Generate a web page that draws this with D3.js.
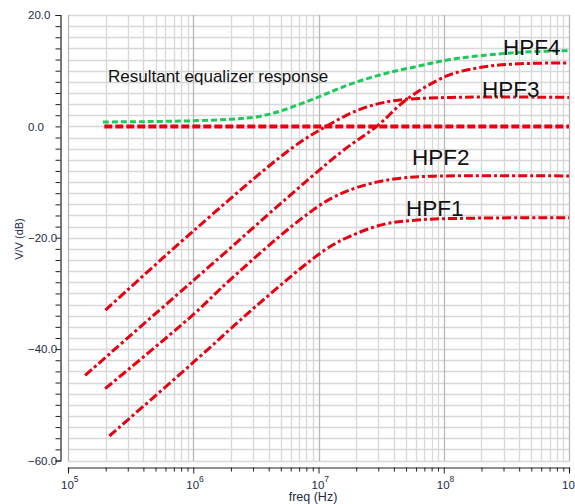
<!DOCTYPE html>
<html>
<head>
<meta charset="utf-8">
<script src="https://cdn.jsdelivr.net/npm/d3@7"></script>
<style>
  body { margin: 0; background: #fff; }
  svg { display: block; font-family: "Liberation Sans", Arial, sans-serif; }
</style>
</head>
<body>
<div id="chart"></div>
<script>
// values (freq in Hz, gain in dB)
const greenFreq = [1.9e5, 4e5, 1e6, 2e6, 3.2e6, 5.2e6, 9.8e6, 1.8e7, 3.3e7, 6.2e7, 1.12e8, 2.7e8, 5e8, 1e9];
const greenDb   = [0.8, 0.85, 1.0, 1.3, 1.7, 2.9, 5.2, 7.6, 9.4, 10.8, 12.0, 13.0, 13.4, 13.6];

const zeroFreq = [1.95e5, 1e9];
const zeroDb   = [0, 0];

const hpf4Freq = [1.37e5, 1e6, 1.5e7, 2.95e7, 5.1e7, 1.07e8, 1.98e8, 3.65e8, 1e9];
const hpf4Db   = [-44.7, -27.7, -4.7, 0.1, 4.9, 9.1, 10.6, 11.2, 11.4];

const hpf3Freq = [1.99e5, 1e6, 5.97e6, 1.17e7, 2.17e7, 3.98e7, 1.14e8, 1e9];
const hpf3Db   = [-33.0, -18.8, -4.1, 0.1, 3.1, 4.6, 5.2, 5.2];

const hpf2Freq = [1.98e5, 1e6, 1.98e6, 7.18e6, 1.32e7, 2.47e7, 4.53e7, 8.3e7, 1e9];
const hpf2Db   = [-47.1, -33.8, -27.5, -16.7, -12.7, -10.4, -9.3, -8.94, -8.9];

const hpf1Freq = [2.14e5, 1e6, 3.44e6, 1.14e7, 1.8e7, 3.31e7, 6.19e7, 1.56e8, 1e9];
const hpf1Db   = [-55.6, -42.4, -31.6, -22.1, -19.7, -17.6, -16.8, -16.5, -16.4];

const yTickLabels = [20, 0, -20, -40, -60];
const xDecades = [5, 6, 7, 8, 9];

const width = 575, height = 504;

const svg = d3.select("#chart").append("svg")
    .attr("width", width)
    .attr("height", height);

const x = d3.scaleLog().domain([1e5, 1e9]).range([68, 569]);
const y = d3.scaleLinear().domain([-60, 20]).range([460.5, 15]);

// grid
const minorFreqs = [];
for (let e = 5; e < 9; e++) {
    for (let m = 1; m < 10; m++) minorFreqs.push(m * Math.pow(10, e));
}
minorFreqs.push(1e9);
const isDecade = d => Math.abs(Math.log10(d) % 1) < 1e-6;

const grid = svg.append("g");
grid.selectAll("line.h")
    .data(d3.range(-60, 21, 2))
    .enter().append("line")
    .attr("x1", 68).attr("x2", 570)
    .attr("y1", d => Math.round(y(d)) + 0.5)
    .attr("y2", d => Math.round(y(d)) + 0.5)
    .attr("stroke", "#d8d8d8")
    .attr("stroke-width", 1.3);

grid.selectAll("line.v")
    .data(minorFreqs)
    .enter().append("line")
    .attr("x1", d => Math.round(x(d)) + 0.5)
    .attr("x2", d => Math.round(x(d)) + 0.5)
    .attr("y1", 15).attr("y2", 461)
    .attr("stroke", d => isDecade(d) ? "#b8b8b8" : "#d8d8d8")
    .attr("stroke-width", 1.3);

// y axis
const yAxis = d3.axisLeft(y)
    .tickValues(d3.range(-60, 21, 2))
    .tickSize(5)
    .tickFormat(d => yTickLabels.includes(d) ? d3.format(".1f")(d) : "");

const yg = svg.append("g")
    .attr("transform", "translate(60.5,0)")
    .call(yAxis);
yg.select(".domain").attr("stroke", "#222").attr("stroke-width", 1.2);
yg.selectAll(".tick line").attr("stroke", "#222");
yg.selectAll(".tick text")
    .attr("text-anchor", "start")
    .attr("x", -32.5)
    .attr("fill", "#1d2a48")
    .style("font-size", "11.5px");

// x axis
const xAxis = d3.axisBottom(x)
    .tickValues(minorFreqs)
    .tickSize(4)
    .tickFormat("");

const xg = svg.append("g")
    .attr("transform", "translate(0,467.5)")
    .call(xAxis);
xg.select(".domain").attr("stroke", "#222").attr("stroke-width", 1.2);
xg.selectAll(".tick line")
    .attr("stroke", "#222")
    .attr("y2", d => isDecade(d) ? 6 : 4);

const xl = svg.append("g");
xDecades.forEach(e => {
    const t = xl.append("text")
        .attr("x", x(Math.pow(10, e)) - 7)
        .attr("y", 489)
        .attr("fill", "#1d2a48")
        .style("font-size", "11.5px");
    t.append("tspan").text("10");
    t.append("tspan").text(e).attr("dy", -7).style("font-size", "8.5px");
});

svg.append("text")
    .attr("x", 313).attr("y", 501)
    .attr("text-anchor", "middle")
    .attr("fill", "#1d2a48")
    .style("font-size", "12.5px")
    .text("freq (Hz)");

svg.append("text")
    .attr("transform", "translate(23,239) rotate(-90)")
    .attr("text-anchor", "middle")
    .attr("fill", "#1d2a48")
    .style("font-size", "11px")
    .text("V/V (dB)");

// curves
const line = d3.line()
    .x(d => x(d[0]))
    .y(d => y(d[1]))
    .curve(d3.curveCatmullRom.alpha(0.5));

const series = [
    { f: hpf1Freq, v: hpf1Db, color: "#e60012", w: 3, dash: "9,3,3,3" },
    { f: hpf2Freq, v: hpf2Db, color: "#e60012", w: 3, dash: "9,3,3,3" },
    { f: hpf3Freq, v: hpf3Db, color: "#e60012", w: 3, dash: "9,3,3,3" },
    { f: hpf4Freq, v: hpf4Db, color: "#e60012", w: 3, dash: "9,3,3,3" },
    { f: zeroFreq, v: zeroDb, color: "#e60012", w: 4, dash: "8,3" },
    { f: greenFreq, v: greenDb, color: "#1ec85a", w: 3, dash: "6,3" }
];

svg.append("g").selectAll("path")
    .data(series)
    .enter().append("path")
    .attr("d", s => line(s.f.map((f, i) => [f, s.v[i]])))
    .attr("fill", "none")
    .attr("stroke", s => s.color)
    .attr("stroke-width", s => s.w)
    .attr("stroke-dasharray", s => s.dash);

// annotations
svg.append("text")
    .attr("x", 108).attr("y", 82)
    .attr("fill", "#111")
    .style("font-size", "17px")
    .text("Resultant equalizer response");

const labels = [
    { t: "HPF4", x: 503, y: 55 },
    { t: "HPF3", x: 482, y: 97 },
    { t: "HPF2", x: 412, y: 165 },
    { t: "HPF1", x: 406, y: 216 }
];
svg.append("g").selectAll("text")
    .data(labels)
    .enter().append("text")
    .attr("x", d => d.x).attr("y", d => d.y)
    .attr("fill", "#111")
    .style("font-size", "22.5px")
    .text(d => d.t);
</script>
</body>
</html>
